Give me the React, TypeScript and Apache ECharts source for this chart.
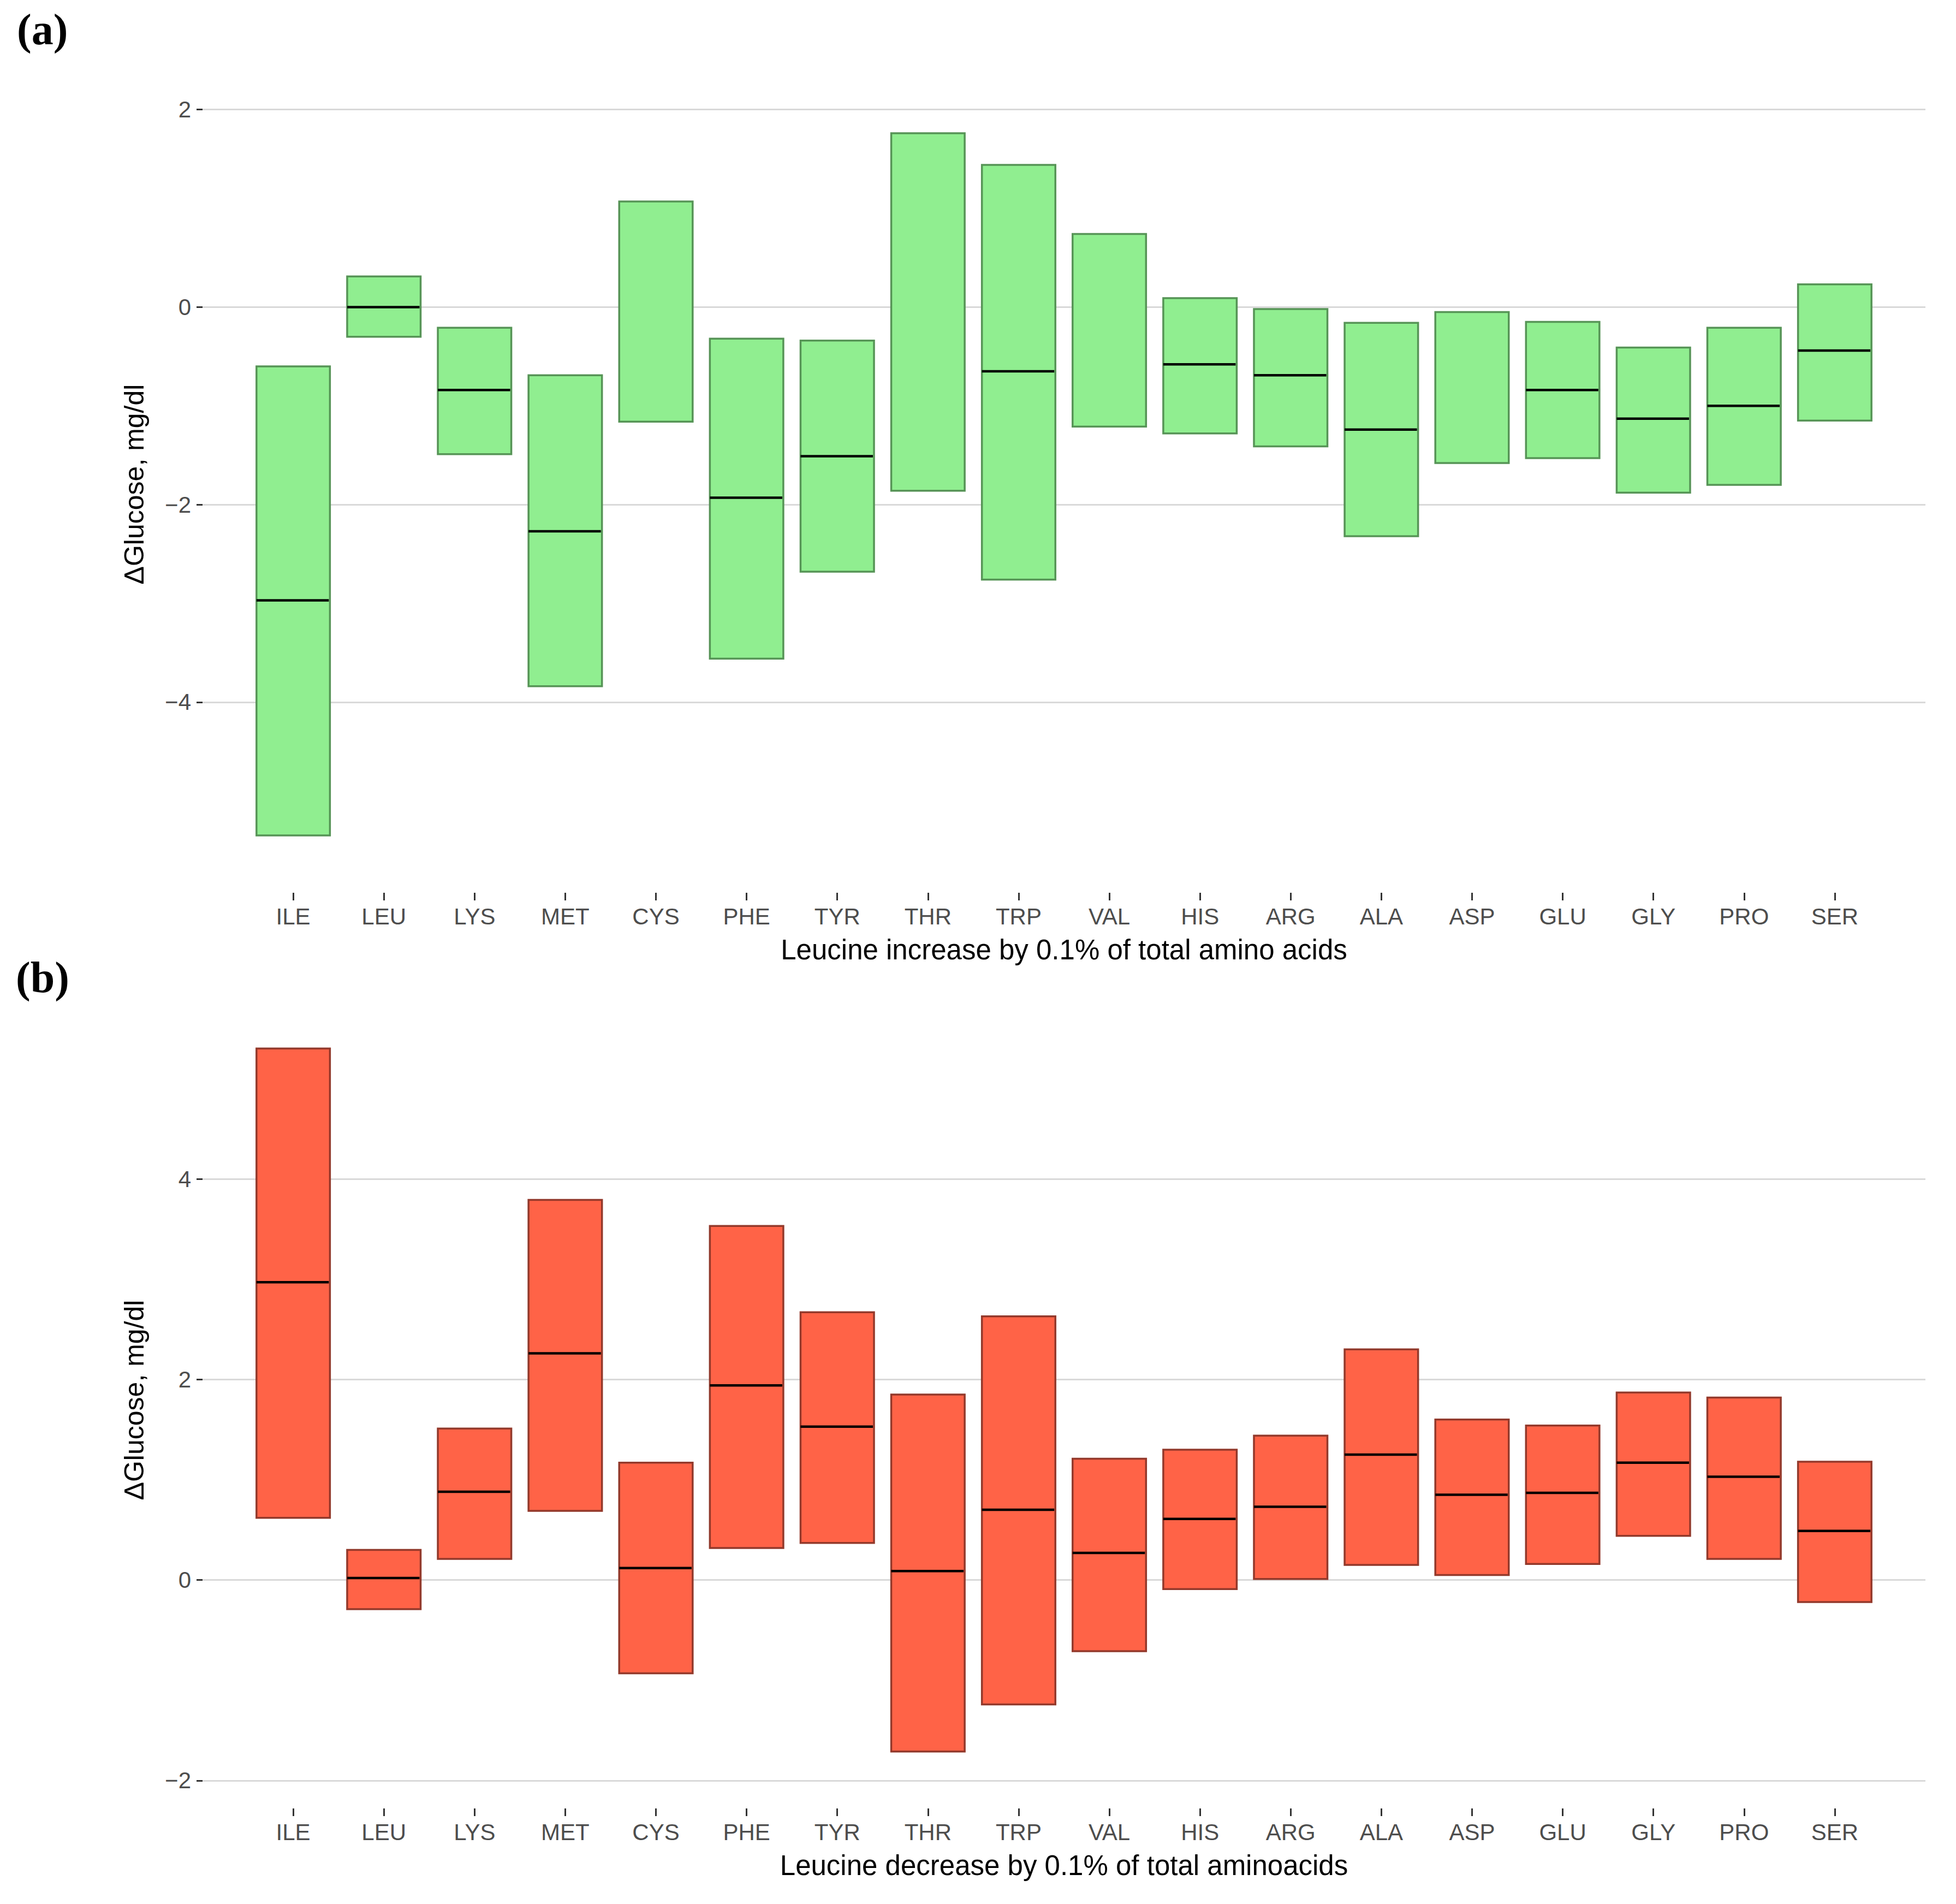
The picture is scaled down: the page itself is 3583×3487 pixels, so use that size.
import React, { useEffect, useRef } from "react";
import * as echarts from "echarts";

const categories = ["ILE", "LEU", "LYS", "MET", "CYS", "PHE", "TYR", "THR", "TRP", "VAL", "HIS", "ARG", "ALA", "ASP", "GLU", "GLY", "PRO", "SER"];

// Panel (a): Leucine increase
const highA = [-0.6, 0.31, -0.21, -0.69, 1.07, -0.32, -0.34, 1.76, 1.44, 0.74, 0.09, -0.02, -0.16, -0.05, -0.15, -0.41, -0.21, 0.23];
const midA: (number | null)[] = [-2.97, 0.0, -0.84, -2.27, null, -1.93, -1.51, null, -0.65, null, -0.58, -0.69, -1.24, null, -0.84, -1.13, -1.0, -0.44];
const lowA = [-5.35, -0.3, -1.49, -3.84, -1.16, -3.56, -2.68, -1.86, -2.76, -1.21, -1.28, -1.41, -2.32, -1.58, -1.53, -1.88, -1.8, -1.15];

// Panel (b): Leucine decrease
const highB = [5.3, 0.3, 1.51, 3.79, 1.17, 3.53, 2.67, 1.85, 2.63, 1.21, 1.3, 1.44, 2.3, 1.6, 1.54, 1.87, 1.82, 1.18];
const midB = [2.97, 0.02, 0.88, 2.26, 0.12, 1.94, 1.53, 0.09, 0.7, 0.27, 0.61, 0.73, 1.25, 0.85, 0.87, 1.17, 1.03, 0.49];
const lowB = [0.62, -0.29, 0.21, 0.69, -0.93, 0.32, 0.37, -1.71, -1.24, -0.71, -0.09, 0.01, 0.15, 0.05, 0.16, 0.44, 0.21, -0.22];

const yTicksA = [-4, -2, 0, 2];
const yTicksB = [-2, 0, 2, 4];

const xTitleA = "Leucine increase by 0.1% of total amino acids";
const xTitleB = "Leucine decrease by 0.1% of total aminoacids";
const yTitle = "\u0394Glucose, mg/dl";

const SANS = "'Liberation Sans', Arial, sans-serif";

function makeRender(fill: string, stroke: string) {
  return (params: any, api: any) => {
    const x = api.value(0);
    const lo = api.value(1);
    const mid = api.value(2);
    const hi = api.value(3);
    const pLo = api.coord([x, lo]);
    const pHi = api.coord([x, hi]);
    const w = api.size([1, 0])[0] * 0.81;
    const children: any[] = [
      {
        type: "rect",
        shape: { x: pLo[0] - w / 2, y: pHi[1], width: w, height: pLo[1] - pHi[1] },
        style: { fill, stroke, lineWidth: 3.5 },
      },
    ];
    if (mid !== null && mid !== undefined && isFinite(mid)) {
      const pm = api.coord([x, mid]);
      children.push({
        type: "line",
        shape: { x1: pLo[0] - w / 2, y1: pm[1], x2: pLo[0] + w / 2 - 2, y2: pm[1] },
        style: { stroke: "#000000", lineWidth: 4.5 },
      });
    }
    return { type: "group", children };
  };
}

export default function App() {
  const ref = useRef<HTMLDivElement>(null);
  useEffect(() => {
    if (!ref.current) return;
    const chart = echarts.init(ref.current, undefined, { renderer: "svg" });
    const xCats = ["", ...categories, ""];
    const xAxisBase = (gridIndex: number, name: string) => ({
      gridIndex,
      type: "category",
      position: "bottom",
      data: xCats,
      boundaryGap: false,
      offset: 40,
      axisLine: { show: false, onZero: false },
      axisTick: {
        show: true,
        interval: (i: number, v: string) => v !== "",
        length: 14,
        lineStyle: { color: "#333333", width: 3 },
      },
      axisLabel: { interval: 0, fontSize: 42, color: "#4d4d4d", margin: 22, fontFamily: SANS },
      splitLine: { show: false },
      name,
      nameLocation: "middle",
      nameGap: 79,
      nameTextStyle: { fontSize: 51, color: "#000000", fontFamily: SANS },
    });
    const yAxisBase = (gridIndex: number, min: number, max: number, ticks: number[]) => ({
      gridIndex,
      type: "value",
      min,
      max,
      axisLine: { show: false, onZero: false },
      axisTick: { show: true, customValues: ticks, length: 11, lineStyle: { color: "#333333", width: 3 } },
      axisLabel: {
        customValues: ticks,
        formatter: (v: number) => String(v).replace("-", "\u2212"),
        margin: 21,
        fontSize: 42,
        color: "#4d4d4d",
        fontFamily: SANS,
      },
      splitLine: { show: true, lineStyle: { color: "#d9d9d9", width: 3 } },
      name: yTitle,
      nameLocation: "middle",
      nameGap: 100,
      nameTextStyle: { fontSize: 50, color: "#000000", fontFamily: SANS },
    });
    const option: any = {
      animation: false,
      backgroundColor: "#ffffff",
      grid: [
        { left: 371, right: 56, top: 179, height: 1416 },
        { left: 371, right: 56, top: 1856, height: 1416 },
      ],
      xAxis: [xAxisBase(0, xTitleA), xAxisBase(1, xTitleB)],
      yAxis: [yAxisBase(0, -5.71, 2.12, yTicksA), yAxisBase(1, -2.06, 5.65, yTicksB)],
      graphic: [
        { type: "text", left: 31, top: 14, style: { text: "(a)", font: "bold 80px 'Liberation Serif', 'Times New Roman', serif", fill: "#000" } },
        { type: "text", left: 29, top: 1750, style: { text: "(b)", font: "bold 80px 'Liberation Serif', 'Times New Roman', serif", fill: "#000" } },
      ],
      series: [
        {
          type: "custom",
          xAxisIndex: 0,
          yAxisIndex: 0,
          encode: { x: 0, y: [1, 2, 3] },
          renderItem: makeRender("#90EE90", "#569456"),
          data: categories.map((c, i) => [c, lowA[i], midA[i], highA[i]]),
        },
        {
          type: "custom",
          xAxisIndex: 1,
          yAxisIndex: 1,
          encode: { x: 0, y: [1, 2, 3] },
          renderItem: makeRender("#FF6347", "#93392B"),
          data: categories.map((c, i) => [c, lowB[i], midB[i], highB[i]]),
        },
      ],
    };
    chart.setOption(option);
    return () => chart.dispose();
  }, []);
  return (
    <div
      ref={ref}
      style={{ position: "absolute", left: 0, top: 0, width: 3583, height: 3487, background: "#fff" }}
    />
  );
}
